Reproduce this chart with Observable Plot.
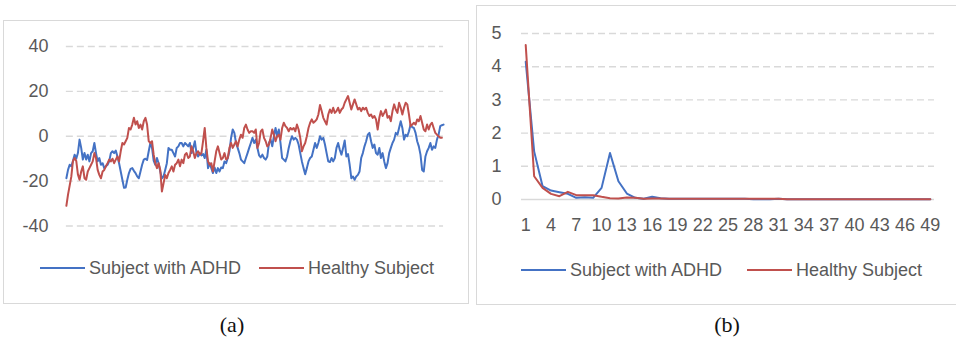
<!DOCTYPE html>
<html><head><meta charset="utf-8">
<script src="https://cdn.jsdelivr.net/npm/d3@7"></script>
<script src="https://cdn.jsdelivr.net/npm/@observablehq/plot@0.6"></script>
<style>
html,body{margin:0;padding:0;background:#fff}
body{width:956px;height:341px;overflow:hidden;position:relative;font-family:"Liberation Sans",Arial,sans-serif}
.frame{position:absolute;border:1.5px solid #d9d9d9;box-sizing:border-box;background:#fff;overflow:hidden}
.frame svg{position:absolute;left:0;top:0;overflow:visible}
.leg{position:absolute;display:flex;align-items:center;height:22px;font-size:18px;color:#595959;white-space:nowrap}
.leg .sw{display:inline-block;height:2px;width:45px;margin-right:4px}
.cap{position:absolute;font-family:"Liberation Serif","Times New Roman",serif;font-size:22px;color:#111;transform:translateX(-50%)}
</style>
</head><body>
<div class="frame" id="fa" style="left:3px;top:20px;width:466px;height:284px"></div>
<div class="frame" id="fb" style="left:476px;top:5px;width:500px;height:300px"></div>
<div id="legends"></div>
<div class="cap" style="left:232px;top:312px">(a)</div>
<div class="cap" style="left:727px;top:312px">(b)</div>
<script>
const seriesNames = ["Subject with ADHD", "Healthy Subject"];
const seriesColors = ["#4472C4", "#C0504D"];

// Panel (a): time series
const adhdA = [
-18.7,-15,-12.7,-13.4,-11,-8.2,-10,-7.5,-1.5,-5.2,-10.4,-7.5,-10.4,-8.2,-11.2,-7.5,-6.7,-3,-7.5,-11.2,
-9.7,-12.7,-12,-14.2,-13.4,-12.7,-11.2,-7.5,-6.7,-7.5,-6.4,-9,-12,-15.7,-19.4,-23,-22.8,-19.4,-16.4,-14.5,
-14.2,-15.4,-16.4,-17.9,-18.7,-15.7,-12.7,-10.4,-10,-10.6,-6.7,-3,-5.2,-10.9,-12.7,-9.7,-12,-15.7,-18.7,-17.9,
-15,-12,-5.2,-6,-6,-7.5,-9,-5.2,-4.5,-3,-3,-4.5,-3,-3.7,-4.5,-3,-7.5,-5.2,-2.2,-7.5,
-9,-7.5,-8.5,-7.9,-9.7,-6,-14.2,-12,-14.2,-16.4,-13.9,-16.4,-14.2,-15.7,-13.9,-14.2,-11.2,-12,-9.7,-6.7,
-0.7,3,1.5,-3,-5.2,-7.5,-10.4,-11.2,-12,-9.7,-7.5,-5.2,-3,-0.7,
-3,-1.5,-5.2,-8.5,-9.4,-8.2,-9.7,-10.4,-9,-3,-1.5,-4.5,0,3.7,0,3,-3,-9.7,-10.4,-11.2,
-9,-5.2,-2.2,0,-1.5,-0.7,-1.5,-3.7,-7.5,-11.2,-14.2,-16.9,-14.2,-11.2,-9.7,-9,-6,-3,-5.2,-3,
0,-1.5,-0.7,-3.7,-7.5,-11.2,-11.5,-9.7,-11.2,-9.7,-5.2,-3,-6,-8.2,-5.2,-1.9,-9,-7.9,-12.7,-18.7,
-17.9,-19.4,-17.9,-17.2,-15.7,-9.7,-7.5,-4.5,-2.2,0.7,1.5,-2.2,-5.2,-3.7,-7.5,-8.2,-5.2,-9.7,-7.5,-11.2,
-14.2,-12,-7.5,-5.2,-3,-1.5,1.5,0.7,3.7,6.7,3.7,-1.5,0.7,0,2.2,5.2,4,3.7,1.5,-2.2,
-4.5,-8.2,-15,-15.7,-9,-6.7,-5.2,-3,-6,-4.5,-5.2,-1.5,0.7,4.5,4.9,5.2
];
const healthyA = [
-31,-26,-22,-18,-11,-9.7,-11,-17,-19.4,-15.7,-13.4,-18.7,-19.4,-15.7,-14.2,-12.7,-11.2,-7.5,-9.7,-15,
-17.2,-18.7,-15.7,-15,-13.4,-12,-10.4,-11.2,-10,-12,-10.4,-9,-11.2,-6.7,-3,-3.7,-2.2,-0.7,3.7,3,
5.2,8.2,5.2,6.7,3.7,5.2,3,6.7,8.2,5.2,-2.2,-3,-2.2,-8.2,-12,-14.2,-12,-15,-24.6,-21,
-17.2,-18.7,-16.4,-15,-13.4,-15.7,-12.7,-12,-10.4,-13.4,-10.4,-12,-8.2,-7.5,-9.7,-9,-4.5,-6.7,-9.7,-7.5,
-6.7,-8.2,-7.5,-2.2,3.7,-5.2,-11.2,-12.7,-12,-15.7,-11.2,-6.7,-4.5,-7.5,-10.4,-9.7,-7.5,-10.4,-9.7,-5.2,
-3,-5.2,-3.7,-2.2,-4.5,-1.5,0.7,-0.7,3.7,5.2,3,1.5,2.2,
2.2,1.5,3,-5.2,-3,2.2,3,-0.7,-2.2,-4.5,-3.7,-0.7,3,0.7,-2.2,0,0.7,-1.5,3.7,6,
4.5,3.7,2.2,3.7,3,3.7,2.2,5.2,3,-0.7,-6.7,-4.5,-3,0,3.7,6,7.5,6,6.7,7.5,
9.7,13.9,11.2,8.2,6.7,5.2,9.7,11.9,10.4,12.7,10.4,11.2,12.7,10.4,11.9,12.7,14.9,16.4,17.9,14.9,
11.9,14.2,16.4,14.2,11.9,12.7,11.2,12.7,11.9,12.7,10.4,9,9.7,8.2,9,7.5,3,8.2,11.2,9,
10.4,11.9,8.2,9,6.7,11.2,14.2,11.9,10.4,14.9,12.7,9.7,12.7,14.9,14.2,9.7,4.5,5.2,6,5.2,
7.5,6.7,9,6,3,2.2,5.2,3,5.2,6,3.7,1.5,0.7,0,-0.7,-0.7
];
const yTicksA = [-40, -20, 0, 20, 40];

// Panel (b): spectrum, bins 1..49
const adhdB = [
4.15,1.45,0.4,0.27,0.22,0.17,0.05,0.07,0.05,0.35,1.4,0.55,0.18,0.05,0.02,0.08,0.04,0.02,0.02,0.02,
0.02,0.02,0.02,0.02,0.02,0.02,0.02,0.01,0.01,0.01,0.02,0.01,0.01,0.01,0.01,0.01,0.01,0.01,0.01,0.01,
0.01,0.01,0.01,0.01,0.01,0.01,0.01,0.01,0.01
];
const healthyB = [
4.65,0.7,0.35,0.17,0.1,0.23,0.13,0.13,0.13,0.08,0.04,0.03,0.06,0.05,0.02,0.03,0.03,0.02,0.02,0.02,
0.02,0.02,0.02,0.02,0.02,0.02,0.02,0.02,0.02,0.02,0.02,0.01,0.01,0.01,0.01,0.01,0.01,0.01,0.01,0.01,
0.01,0.01,0.01,0.01,0.01,0.01,0.01,0.01,0.01
];
const yTicksB = [0, 1, 2, 3, 4, 5];
const xTicksB = [1,4,7,10,13,16,19,22,25,28,31,34,37,40,43,46,49];

const gridStyle = {stroke: "#d9d9d9", strokeWidth: 1.4, strokeDasharray: "7,4"};
const textColor = "#595959";
const fontStyle = {fontFamily: '"Liberation Sans", Arial, sans-serif', fontSize: "18px", color: textColor, background: "transparent"};

function toRows(arrs) {
  const rows = [];
  arrs.forEach((arr, k) => arr.forEach((v, i) => rows.push({i: i + 1, v, s: seriesNames[k]})));
  return rows;
}

const rowsA = toRows([adhdA, healthyA]);
const NA = adhdA.length;
const plotA = Plot.plot({
  width: 465, height: 215,
  marginTop: 25, marginBottom: 10, marginLeft: 62, marginRight: 25,
  style: fontStyle,
  x: {domain: [1, NA], axis: null},
  y: {domain: [-40, 40], axis: null},
  color: {domain: seriesNames, range: seriesColors},
  marks: [
    Plot.ruleY(yTicksA, gridStyle),
    Plot.axisY(yTicksA, {tickSize: 0, tickPadding: 18, color: textColor, fontSize: 18, tickFormat: d => String(d), label: null}),
    Plot.line(rowsA, {x: "i", y: "v", stroke: "s", z: "s", strokeWidth: 2})
  ]
});
document.getElementById("fa").appendChild(plotA);

const rowsB = toRows([adhdB, healthyB]);
const plotB = Plot.plot({
  width: 480, height: 233,
  marginTop: 27, marginBottom: 40, marginLeft: 44, marginRight: 23,
  style: fontStyle,
  x: {domain: [0.5, 49.5], axis: null},
  y: {domain: [0, 5], axis: null},
  color: {domain: seriesNames, range: seriesColors},
  marks: [
    Plot.ruleY(yTicksB.filter(d => d > 0), gridStyle),
    Plot.ruleY([0], {stroke: "#d9d9d9", strokeWidth: 1.5}),
    Plot.axisY(yTicksB, {tickSize: 0, tickPadding: 20, color: textColor, fontSize: 18, label: null}),
    Plot.axisX(xTicksB, {tickSize: 0, tickPadding: 19, color: textColor, fontSize: 18, label: null}),
    Plot.line(rowsB, {x: "i", y: "v", stroke: "s", z: "s", strokeWidth: 2})
  ]
});
document.getElementById("fb").appendChild(plotB);

// Legends (HTML, below each plot)
const legendSpots = [
  {x: 40, y: 268, k: 0}, {x: 259, y: 268, k: 1},
  {x: 521, y: 270, k: 0}, {x: 747, y: 270, k: 1}
];
const legHost = document.getElementById("legends");
legendSpots.forEach(p => {
  const d = document.createElement("div");
  d.className = "leg";
  d.style.left = p.x + "px";
  d.style.top = (p.y - 11) + "px";
  const sw = document.createElement("span");
  sw.className = "sw";
  sw.style.background = seriesColors[p.k];
  d.appendChild(sw);
  d.appendChild(document.createTextNode(seriesNames[p.k]));
  legHost.appendChild(d);
});
</script>
</body></html>
